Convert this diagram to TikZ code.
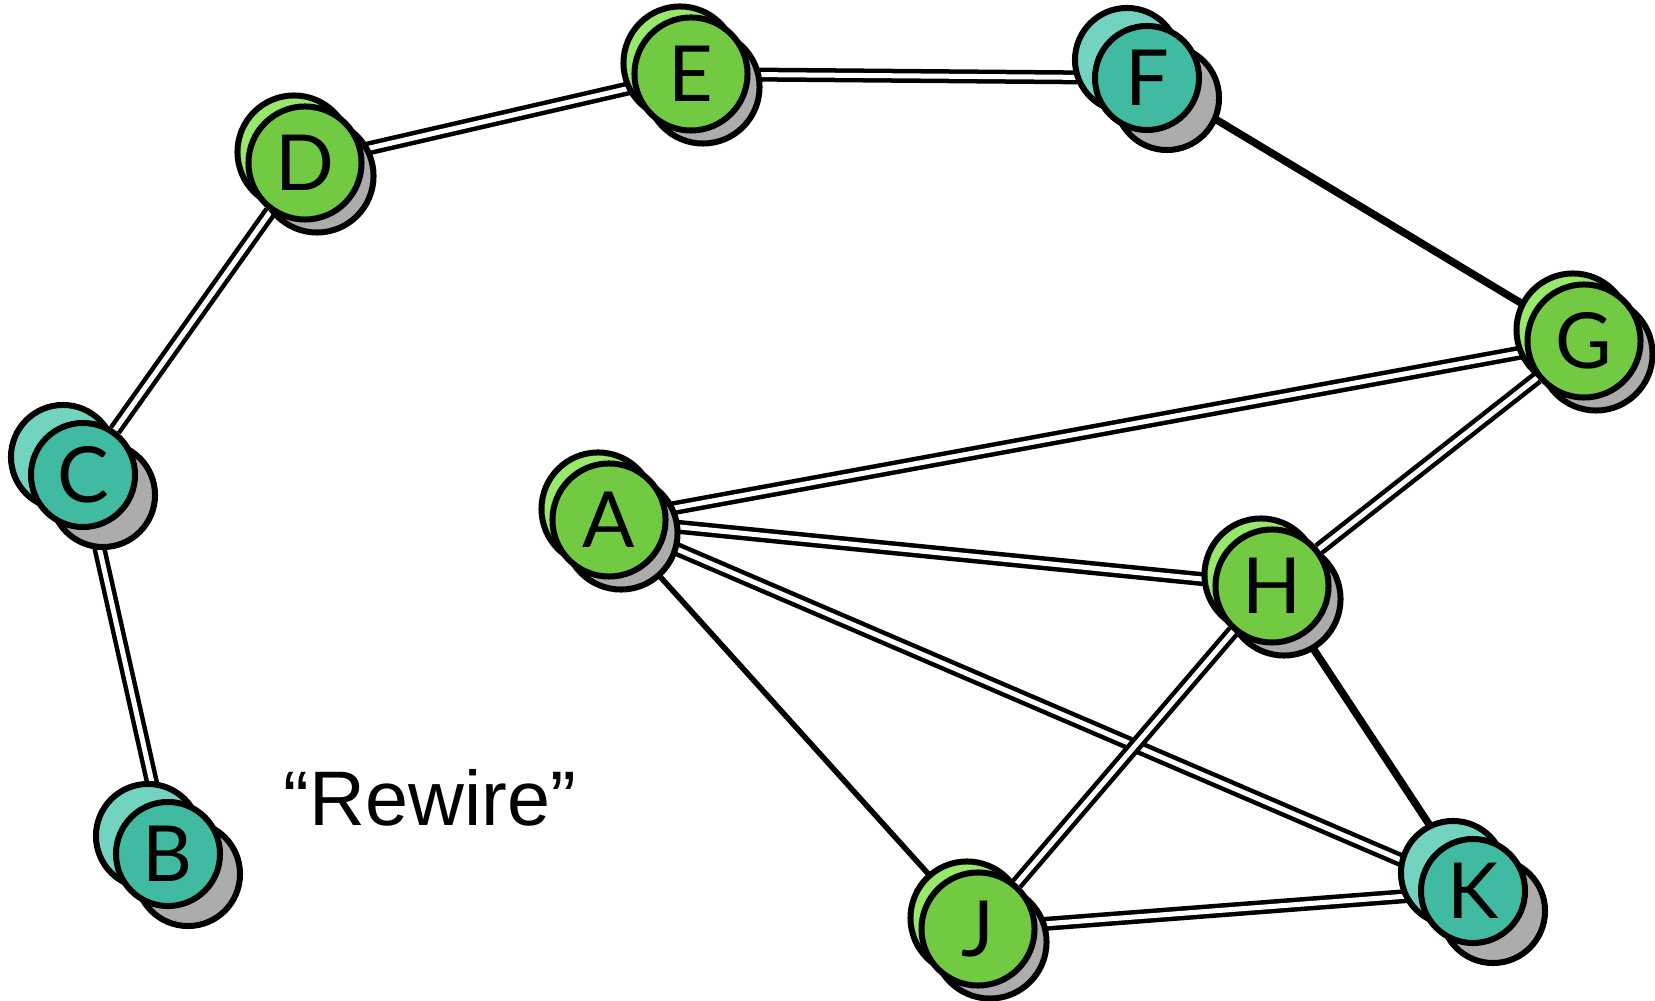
\documentclass[tikz,border=0pt]{standalone}
\usepackage{fontspec}
\setmainfont{Liberation Sans}
\newfontfamily\letterfont{Lato}
\usetikzlibrary{shadows}
\pgfdeclarelayer{edges}
\pgfsetlayers{edges,main}
\definecolor{greenfront}{RGB}{114,202,66}
\definecolor{greenback}{RGB}{152,232,108}
\definecolor{tealfront}{RGB}{64,186,160}
\definecolor{tealback}{RGB}{114,212,192}
\definecolor{shadowgray}{RGB}{172,172,172}

\begin{document}
\begin{tikzpicture}[x=0.01cm,y=-0.01cm,
  vertex/.style={circle,draw=black,line width=0.06cm,inner sep=0pt,
    font=\letterfont\fontsize{22}{26}\selectfont},
  greenvertex/.style={vertex,minimum size=1.13cm,fill=greenfront,
    general shadow={fill=shadowgray,draw=black,line width=0.06cm,
      shadow xshift=0.12cm,shadow yshift=-0.13cm},
    general shadow={fill=greenback,draw=black,line width=0.06cm,
      shadow xshift=-0.11cm,shadow yshift=0.11cm}},
  tealvertex/.style={vertex,minimum size=1.04cm,fill=tealfront,
    general shadow={fill=shadowgray,draw=black,line width=0.06cm,
      shadow xshift=0.2cm,shadow yshift=-0.2cm},
    general shadow={fill=tealback,draw=black,line width=0.06cm,
      shadow xshift=-0.2cm,shadow yshift=0.18cm}},
  link/.style={line width=0.045cm,double=white,double distance=0.05cm},
  wire/.style={line width=0.055cm},
  thickwire/.style={line width=0.075cm}]

\useasboundingbox (0,0) rectangle (1655,1001);

%the ring of vertices
\node[greenvertex] (A) at (609,520) {A};
\node[tealvertex]  (B) at (168,854) {B};
\node[tealvertex]  (C) at (83,475)  {C};
\node[greenvertex] (D) at (305,163) {D};
\node[greenvertex] (E) at (691,74)  {E};
\node[tealvertex]  (F) at (1147,78) {F};
\node[greenvertex] (G) at (1584,341) {G};
\node[greenvertex] (H) at (1272,586) {H};
\node[greenvertex] (J) at (978,929) {J};
\node[tealvertex]  (K) at (1473,891) {K};

\node[anchor=base,font=\fontsize{22}{26}\selectfont] (rewire) at (430,826) {“Rewire”};

%edges go underneath
\begin{pgfonlayer}{edges}
\draw[link] (B) -- (C);
\draw[link] (C) -- (D);
\draw[link] (D) -- (E);
\draw[link] (E) -- (F);
\draw[thickwire] (F) -- (G);
\draw[link] (A) -- (G);
\draw[link] (G) -- (H);
\draw[link] (A) -- (H);
\draw[link] (A) -- (K);
\draw[wire] (A) -- (J);
\draw[link] (H) -- (J);
\draw[thickwire] (H) -- (K);
\draw[link] (J) -- (K);
\end{pgfonlayer}
\end{tikzpicture}
\end{document}
